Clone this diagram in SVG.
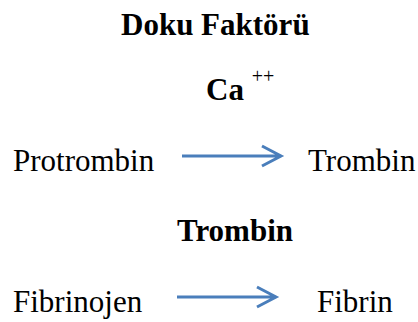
<svg xmlns="http://www.w3.org/2000/svg" width="418" height="322" viewBox="0 0 418 322">
<style>
text{font-family:'Liberation Serif','Times New Roman',serif;font-size:31px;fill:#000}
.b{font-weight:bold}
.sup{font-size:20px;font-weight:normal}
.arrow{fill:none;stroke:#4a7ebb;stroke-width:3;stroke-linecap:butt}
</style>
<rect width="418" height="322" fill="#fff"/>
<g id="doku-faktoru"><text class="b" x="121" y="35">Doku Faktörü</text></g>
<g id="ca"><text class="b" x="206" y="100">Ca <tspan class="sup" dy="-17">++</tspan></text></g>
<g id="protrombin"><text x="13" y="171">Protrombin</text></g>
<g id="trombin"><text x="308" y="171">Trombin</text></g>
<g id="trombin-enzyme"><text class="b" x="177" y="241">Trombin</text></g>
<g id="fibrinojen"><text x="13" y="312">Fibrinojen</text></g>
<g id="fibrin"><text x="317" y="312">Fibrin</text></g>
<g id="connectors">
<path class="arrow" d="M182,156 H281 M262,146 L281,156 L262,166"/>
<path class="arrow" d="M177,297 H276 M257,287 L276,297 L257,307"/>
</g>
</svg>
